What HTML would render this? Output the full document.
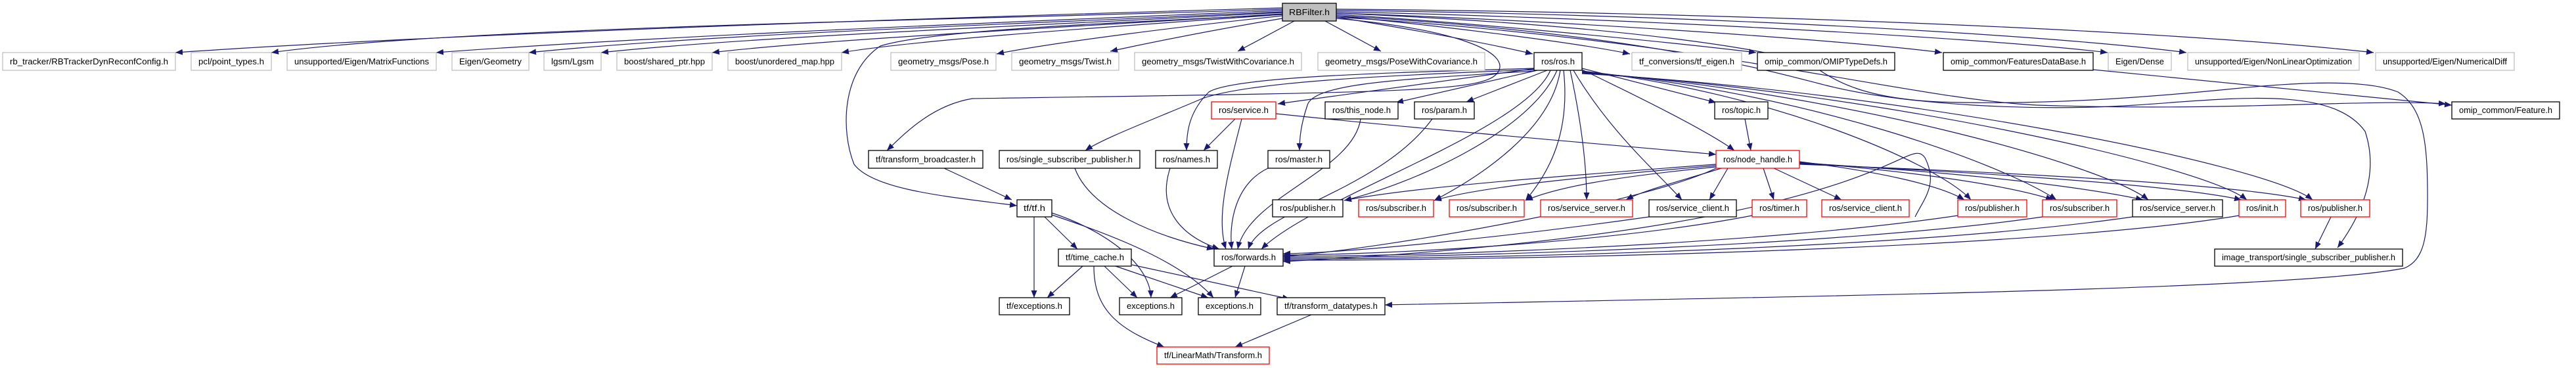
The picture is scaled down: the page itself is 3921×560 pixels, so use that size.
<!DOCTYPE html>
<html><head><meta charset="utf-8"><style>
html,body{margin:0;padding:0;background:#fff;}
svg{display:block;}
text{font-family:"Liberation Sans",sans-serif;font-size:12.5px;fill:#000;}
.e{fill:none;stroke:#191970;stroke-width:1.2;marker-end:url(#ah);}
.g{fill:#fff;stroke:#bfbfbf;stroke-width:1.3;}
.b{fill:#fff;stroke:#000;stroke-width:1.3;}
.r{fill:#fff;stroke:#ff0000;stroke-width:1.3;}
</style></head><body>
<svg width="3921" height="560" viewBox="0 0 3921 560" xmlns="http://www.w3.org/2000/svg">
<defs><marker id="ah" markerUnits="userSpaceOnUse" markerWidth="12" markerHeight="10" refX="11" refY="4.5" orient="auto"><path d="M0,0 L11,4.5 L0,9 z" fill="#191970"/></marker></defs>

<path class="e" d="M1952,12 C1500,25 700,50 267,80"/>
<path class="e" d="M1952,14 C1500,30 700,40 413,80"/>
<path class="e" d="M1952,16 C1500,35 1000,55 664,80"/>
<path class="e" d="M1952,18 C1600,35 1100,50 805,80"/>
<path class="e" d="M1952,19 C1600,38 1150,55 915,80"/>
<path class="e" d="M1952,21 C1650,40 1250,60 1084,80"/>
<path class="e" d="M1952,22 C1700,40 1400,60 1281,80"/>
<path class="e" d="M1952,24 C1800,40 1600,65 1517,82"/>
<path class="e" d="M1952,28 C1850,45 1750,65 1690,78"/>
<path class="e" d="M1970,32 L1884,78"/>
<path class="e" d="M2017,32 L2102,78"/>
<path class="e" d="M2034,26 C2150,45 2260,65 2333,82"/>
<path class="e" d="M2034,24 C2200,40 2400,65 2481,82"/>
<path class="e" d="M2034,22 C2250,35 2550,65 2673,80"/>
<path class="e" d="M2034,20 C2350,30 2800,60 2956,80"/>
<path class="e" d="M2034,18 C2400,25 3000,55 3208,80"/>
<path class="e" d="M2034,16 C2500,20 3100,50 3328,80"/>
<path class="e" d="M2034,14 C2600,18 3300,45 3613,80"/>

<path class="e" d="M1952,22 C1700,35 1420,45 1340,70 C1280,110 1280,200 1300,250 C1330,290 1450,300 1548,313"/>
<path class="e" d="M2034,20 C2500,40 2720,80 2760,100 C2800,130 2850,150 2950,155 C3100,160 3250,150 3400,135 C3500,125 3600,120 3650,140 C3690,165 3695,220 3695,300 C3695,360 3690,395 3660,408 C3500,440 2800,450 2108,464"/>
<path class="e" d="M2034,24 C2500,50 2700,110 2780,130 C2900,160 3100,170 3250,160 C3400,150 3550,130 3600,200 C3620,260 3600,320 3558,377"/>
<path class="e" d="M2034,28 C2220,45 2300,80 2280,110 C2260,140 2150,140 1480,150 C1420,160 1380,200 1350,229"/>
<path class="e" d="M2034,26 C2600,60 2900,150 3100,160 C3400,170 3600,150 3723,158"/>

<path class="e" d="M2335,104 C2150,110 1880,115 1840,140 C1810,170 1806,200 1806,229"/>
<path class="e" d="M2335,106 C2100,115 1900,125 1830,150 C1760,180 1680,210 1652,229"/>
<path class="e" d="M2335,108 C2150,120 2000,125 1990,160 C1980,190 1978,210 1978,229"/>
<path class="e" d="M2338,104 L1945,158"/>
<path class="e" d="M2340,107 L2125,156"/>
<path class="e" d="M2355,107 L2232,155"/>
<path class="e" d="M2408,104 L2612,156"/>
<path class="e" d="M2408,106 C2500,150 2600,200 2640,229"/>
<path class="e" d="M2360,107 C2320,200 2000,300 1920,379"/>
<path class="e" d="M2370,107 C2330,200 2150,280 2046,305"/>
<path class="e" d="M2375,107 C2360,200 2250,270 2183,305"/>
<path class="e" d="M2380,107 C2390,200 2360,260 2322,305"/>
<path class="e" d="M2390,107 C2410,200 2415,260 2415,304"/>
<path class="e" d="M2395,107 C2450,200 2520,260 2560,304"/>
<path class="e" d="M2408,108 C2700,140 2950,250 3000,304"/>
<path class="e" d="M2408,109 C2750,140 3050,250 3130,304"/>
<path class="e" d="M2408,110 C2800,140 3200,250 3270,304"/>
<path class="e" d="M2408,111 C2850,140 3350,250 3420,304"/>
<path class="e" d="M2408,112 C2900,140 3450,250 3520,304"/>

<path class="e" d="M1942,173 C2200,200 2450,220 2612,235"/>
<path class="e" d="M1880,181 L1832,229"/>
<path class="e" d="M1890,181 C1870,260 1850,330 1866,379"/>
<path class="e" d="M2071,181 C2060,260 1900,300 1884,379"/>
<path class="e" d="M2180,181 C2100,290 1920,320 1900,379"/>
<path class="e" d="M1781,256 C1760,320 1800,360 1856,379"/>
<path class="e" d="M1636,256 C1660,320 1760,360 1848,379"/>
<path class="e" d="M1930,256 C1880,280 1870,340 1875,379"/>
<path class="e" d="M1437,256 L1540,304"/>
<path class="e" d="M2656,181 L2665,229"/>
<path class="e" d="M3186,106 L3732,160"/>

<path class="e" d="M2612,250 C2350,270 2150,285 2046,305"/>
<path class="e" d="M2612,252 C2400,270 2250,285 2183,305"/>
<path class="e" d="M2612,254 C2450,270 2370,285 2322,305"/>
<path class="e" d="M2620,256 C2560,275 2500,290 2475,304"/>
<path class="e" d="M2630,256 L2602,304"/>
<path class="e" d="M2684,256 L2700,304"/>
<path class="e" d="M2700,256 L2803,304"/>
<path class="e" d="M2739,246 C2850,260 2950,280 2990,304"/>
<path class="e" d="M2739,247 C2900,260 3050,280 3125,304"/>
<path class="e" d="M2739,248 C2950,260 3150,280 3262,304"/>
<path class="e" d="M2739,249 C3000,262 3300,280 3412,304"/>
<path class="e" d="M2739,250 C3050,262 3400,280 3510,304"/>
<path class="e" d="M2612,256 C2500,310 2100,380 1953,390"/>

<path class="e" d="M2510,330 C2300,360 2050,385 1953,386"/>
<path class="e" d="M2667,328 C2450,370 2100,388 1953,388"/>
<path class="e" d="M2980,328 C2700,370 2200,390 1953,390"/>
<path class="e" d="M3109,330 C2800,375 2200,392 1953,392"/>
<path class="e" d="M3246,330 C2900,380 2250,394 1953,394"/>
<path class="e" d="M3408,328 C3100,380 2300,396 1953,396"/>
<path class="e" d="M2915,330 C2930,300 2950,280 2930,240 C2900,200 2880,350 1953,398"/>
<path class="e" d="M3548,330 L3524,379"/>

<path class="e" d="M1574,330 L1574,453"/>
<path class="e" d="M1590,330 L1640,379"/>
<path class="e" d="M1601,324 C1680,350 1750,400 1752,453"/>
<path class="e" d="M1601,327 C1700,360 1800,400 1847,453"/>
<path class="e" d="M1648,405 L1594,453"/>
<path class="e" d="M1681,405 L1731,453"/>
<path class="e" d="M1698,405 L1839,453"/>
<path class="e" d="M1723,403 L1963,455"/>
<path class="e" d="M1665,405 C1665,470 1700,500 1772,528"/>
<path class="e" d="M1876,405 L1781,453"/>
<path class="e" d="M1895,405 L1880,453"/>
<path class="e" d="M1996,479 L1880,528"/>

<g>
<rect x="1952" y="5" width="82" height="27" fill="#bfbfbf" stroke="#000" stroke-width="1.3"/><text x="1993" y="23" text-anchor="middle" textLength="62" lengthAdjust="spacingAndGlyphs">RBFilter.h</text>

<rect class="g" x="4" y="80" width="263" height="27"/><text x="135.5" y="98" text-anchor="middle" textLength="241" lengthAdjust="spacingAndGlyphs">rb_tracker/RBTrackerDynReconfConfig.h</text>
<rect class="g" x="291" y="80" width="122" height="27"/><text x="352" y="98" text-anchor="middle" textLength="100" lengthAdjust="spacingAndGlyphs">pcl/point_types.h</text>
<rect class="g" x="437" y="80" width="227" height="27"/><text x="550.5" y="98" text-anchor="middle" textLength="205" lengthAdjust="spacingAndGlyphs">unsupported/Eigen/MatrixFunctions</text>
<rect class="g" x="688" y="80" width="117" height="27"/><text x="746.5" y="98" text-anchor="middle" textLength="95" lengthAdjust="spacingAndGlyphs">Eigen/Geometry</text>
<rect class="g" x="828" y="80" width="87" height="27"/><text x="871.5" y="98" text-anchor="middle" textLength="65" lengthAdjust="spacingAndGlyphs">lgsm/Lgsm</text>
<rect class="g" x="939" y="80" width="145" height="27"/><text x="1011.5" y="98" text-anchor="middle" textLength="123" lengthAdjust="spacingAndGlyphs">boost/shared_ptr.hpp</text>
<rect class="g" x="1108" y="80" width="173" height="27"/><text x="1194.5" y="98" text-anchor="middle" textLength="151" lengthAdjust="spacingAndGlyphs">boost/unordered_map.hpp</text>
<rect class="g" x="1356" y="80" width="160" height="27"/><text x="1436" y="98" text-anchor="middle" textLength="138" lengthAdjust="spacingAndGlyphs">geometry_msgs/Pose.h</text>
<rect class="g" x="1540" y="80" width="163" height="27"/><text x="1621.5" y="98" text-anchor="middle" textLength="141" lengthAdjust="spacingAndGlyphs">geometry_msgs/Twist.h</text>
<rect class="g" x="1727" y="80" width="254" height="27"/><text x="1854" y="98" text-anchor="middle" textLength="232" lengthAdjust="spacingAndGlyphs">geometry_msgs/TwistWithCovariance.h</text>
<rect class="g" x="2006" y="80" width="254" height="27"/><text x="2133" y="98" text-anchor="middle" textLength="232" lengthAdjust="spacingAndGlyphs">geometry_msgs/PoseWithCovariance.h</text>
<rect class="b" x="2335" y="80" width="73" height="27"/><text x="2371.5" y="98" text-anchor="middle" textLength="51" lengthAdjust="spacingAndGlyphs">ros/ros.h</text>
<rect class="g" x="2484" y="80" width="167" height="27"/><text x="2567.5" y="98" text-anchor="middle" textLength="145" lengthAdjust="spacingAndGlyphs">tf_conversions/tf_eigen.h</text>
<rect class="b" x="2675" y="80" width="209" height="27"/><text x="2779.5" y="98" text-anchor="middle" textLength="187" lengthAdjust="spacingAndGlyphs">omip_common/OMIPTypeDefs.h</text>
<rect class="b" x="2958" y="80" width="228" height="27"/><text x="3072" y="98" text-anchor="middle" textLength="206" lengthAdjust="spacingAndGlyphs">omip_common/FeaturesDataBase.h</text>
<rect class="g" x="3209" y="80" width="96" height="27"/><text x="3257" y="98" text-anchor="middle" textLength="74" lengthAdjust="spacingAndGlyphs">Eigen/Dense</text>
<rect class="g" x="3330" y="80" width="261" height="27"/><text x="3460.5" y="98" text-anchor="middle" textLength="239" lengthAdjust="spacingAndGlyphs">unsupported/Eigen/NonLinearOptimization</text>
<rect class="g" x="3616" y="80" width="211" height="27"/><text x="3721.5" y="98" text-anchor="middle" textLength="189" lengthAdjust="spacingAndGlyphs">unsupported/Eigen/NumericalDiff</text>

<rect class="r" x="1844" y="155" width="98" height="26"/><text x="1893" y="172" text-anchor="middle" textLength="76" lengthAdjust="spacingAndGlyphs">ros/service.h</text>
<rect class="b" x="2017" y="155" width="111" height="26"/><text x="2072.5" y="172" text-anchor="middle" textLength="89" lengthAdjust="spacingAndGlyphs">ros/this_node.h</text>
<rect class="b" x="2153" y="155" width="91" height="26"/><text x="2198.5" y="172" text-anchor="middle" textLength="69" lengthAdjust="spacingAndGlyphs">ros/param.h</text>
<rect class="b" x="2610" y="155" width="81" height="26"/><text x="2650.5" y="172" text-anchor="middle" textLength="59" lengthAdjust="spacingAndGlyphs">ros/topic.h</text>
<rect class="b" x="3732" y="155" width="164" height="26"/><text x="3814" y="172" text-anchor="middle" textLength="142" lengthAdjust="spacingAndGlyphs">omip_common/Feature.h</text>

<rect class="b" x="1322" y="229" width="174" height="27"/><text x="1409" y="247" text-anchor="middle" textLength="152" lengthAdjust="spacingAndGlyphs">tf/transform_broadcaster.h</text>
<rect class="b" x="1521" y="229" width="214" height="27"/><text x="1628" y="247" text-anchor="middle" textLength="192" lengthAdjust="spacingAndGlyphs">ros/single_subscriber_publisher.h</text>
<rect class="b" x="1759" y="229" width="94" height="27"/><text x="1806" y="247" text-anchor="middle" textLength="72" lengthAdjust="spacingAndGlyphs">ros/names.h</text>
<rect class="b" x="1930" y="229" width="94" height="27"/><text x="1977" y="247" text-anchor="middle" textLength="72" lengthAdjust="spacingAndGlyphs">ros/master.h</text>
<rect class="r" x="2612" y="229" width="127" height="27"/><text x="2675.5" y="247" text-anchor="middle" textLength="105" lengthAdjust="spacingAndGlyphs">ros/node_handle.h</text>

<rect class="b" x="1548" y="304" width="53" height="26"/><text x="1574.5" y="321" text-anchor="middle" textLength="33" lengthAdjust="spacingAndGlyphs">tf/tf.h</text>
<rect class="b" x="1937" y="304" width="107" height="26"/><text x="1990.5" y="321" text-anchor="middle" textLength="85" lengthAdjust="spacingAndGlyphs">ros/publisher.h</text>
<rect class="r" x="2068" y="304" width="114" height="26"/><text x="2125" y="321" text-anchor="middle" textLength="92" lengthAdjust="spacingAndGlyphs">ros/subscriber.h</text>
<rect class="r" x="2206" y="304" width="114" height="26"/><text x="2263" y="321" text-anchor="middle" textLength="92" lengthAdjust="spacingAndGlyphs">ros/subscriber.h</text>
<rect class="r" x="2345" y="304" width="140" height="26"/><text x="2415" y="321" text-anchor="middle" textLength="118" lengthAdjust="spacingAndGlyphs">ros/service_server.h</text>
<rect class="b" x="2510" y="304" width="133" height="26"/><text x="2576.5" y="321" text-anchor="middle" textLength="111" lengthAdjust="spacingAndGlyphs">ros/service_client.h</text>
<rect class="r" x="2667" y="304" width="83" height="26"/><text x="2708.5" y="321" text-anchor="middle" textLength="61" lengthAdjust="spacingAndGlyphs">ros/timer.h</text>
<rect class="r" x="2773" y="304" width="133" height="26"/><text x="2839.5" y="321" text-anchor="middle" textLength="111" lengthAdjust="spacingAndGlyphs">ros/service_client.h</text>
<rect class="r" x="2980" y="304" width="105" height="26"/><text x="3032.5" y="321" text-anchor="middle" textLength="83" lengthAdjust="spacingAndGlyphs">ros/publisher.h</text>
<rect class="r" x="3109" y="304" width="113" height="26"/><text x="3165.5" y="321" text-anchor="middle" textLength="91" lengthAdjust="spacingAndGlyphs">ros/subscriber.h</text>
<rect class="b" x="3246" y="304" width="137" height="26"/><text x="3314.5" y="321" text-anchor="middle" textLength="115" lengthAdjust="spacingAndGlyphs">ros/service_server.h</text>
<rect class="r" x="3408" y="304" width="71" height="26"/><text x="3443.5" y="321" text-anchor="middle" textLength="49" lengthAdjust="spacingAndGlyphs">ros/init.h</text>
<rect class="r" x="3502" y="304" width="105" height="26"/><text x="3554.5" y="321" text-anchor="middle" textLength="83" lengthAdjust="spacingAndGlyphs">ros/publisher.h</text>

<rect class="b" x="1611" y="379" width="111" height="26"/><text x="1666.5" y="396" text-anchor="middle" textLength="89" lengthAdjust="spacingAndGlyphs">tf/time_cache.h</text>
<rect class="b" x="1848" y="379" width="105" height="26"/><text x="1900.5" y="396" text-anchor="middle" textLength="83" lengthAdjust="spacingAndGlyphs">ros/forwards.h</text>
<rect class="b" x="3371" y="379" width="286" height="26"/><text x="3514" y="396" text-anchor="middle" textLength="264" lengthAdjust="spacingAndGlyphs">image_transport/single_subscriber_publisher.h</text>

<rect class="b" x="1521" y="453" width="107" height="26"/><text x="1574.5" y="470" text-anchor="middle" textLength="85" lengthAdjust="spacingAndGlyphs">tf/exceptions.h</text>
<rect class="b" x="1704" y="453" width="95" height="26"/><text x="1751.5" y="470" text-anchor="middle" textLength="73" lengthAdjust="spacingAndGlyphs">exceptions.h</text>
<rect class="b" x="1824" y="453" width="95" height="26"/><text x="1871.5" y="470" text-anchor="middle" textLength="73" lengthAdjust="spacingAndGlyphs">exceptions.h</text>
<rect class="b" x="1944" y="453" width="164" height="26"/><text x="2026" y="470" text-anchor="middle" textLength="142" lengthAdjust="spacingAndGlyphs">tf/transform_datatypes.h</text>

<rect class="r" x="1761" y="528" width="171" height="26"/><text x="1846.5" y="545" text-anchor="middle" textLength="149" lengthAdjust="spacingAndGlyphs">tf/LinearMath/Transform.h</text>
</g>
</svg>
</body></html>
